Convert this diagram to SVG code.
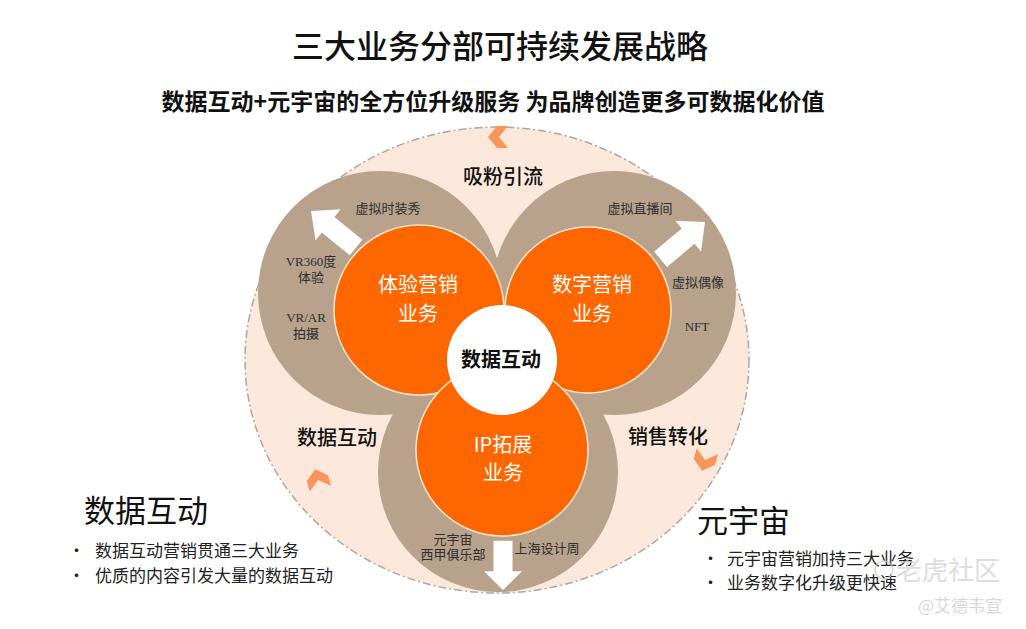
<svg xmlns="http://www.w3.org/2000/svg" width="1026" height="629" viewBox="0 0 1026 629">
<defs>
<style>
.cjk{font-family:"Noto Sans CJK SC","Liberation Sans",sans-serif}
.ser{font-family:"Liberation Serif","Noto Sans CJK SC",serif}
.lbl{font-family:"Liberation Serif","Noto Sans CJK SC",serif;font-size:13px;fill:#2e2e2e;text-anchor:middle}
.big{font-family:"Noto Sans CJK SC",sans-serif;font-size:20px;fill:#ffffff;text-anchor:middle}
.flow{font-family:"Noto Sans CJK SC",sans-serif;font-size:20px;fill:#111;text-anchor:middle;font-weight:500}
.brown{fill:#B8A28C}
.orange{fill:#FE6600;stroke:#FFE6CC;stroke-width:1.5}
.arrow{fill:#ffffff}
.chev{fill:#F7955B}
.bul{font-family:"Noto Sans CJK SC",sans-serif;font-size:17px;fill:#222}
</style>
<polygon id="chev" points="-9,-11 2,-11 11,0 2,11 -9,11 0,0"/>
<polygon id="arr" points="0,0 20,22 10,22 10,58 -10,58 -10,22 -20,22"/>
</defs>
<rect width="1026" height="629" fill="#ffffff"/>

<g id="title">
<text x="500" y="58" class="cjk" font-size="32" text-anchor="middle" fill="#111" font-weight="500">三大业务分部可持续发展战略</text>
<text x="493" y="110" class="cjk" font-size="23" text-anchor="middle" fill="#111" font-weight="700">数据互动+元宇宙的全方位升级服务 为品牌创造更多可数据化价值</text>
</g>

<g id="outer-ring">
<ellipse cx="497" cy="360" rx="252" ry="233" fill="#FCE8DA" stroke="#A8A8A8" stroke-width="1.5" stroke-dasharray="8 3 2 3"/>
</g>

<g id="brown-rings">
<circle class="brown" cx="380" cy="293" r="122"/>
<circle class="brown" cx="614" cy="293" r="122"/>
<circle class="brown" cx="498" cy="472" r="120"/>
</g>

<g id="node-tiyan">
<circle class="orange" cx="419" cy="310" r="85"/>
<text class="big" x="418" y="292">体验营销</text>
<text class="big" x="418" y="321">业务</text>
</g>
<g id="node-shuzi">
<circle class="orange" cx="588" cy="310" r="83"/>
<text class="big" x="592" y="292">数字营销</text>
<text class="big" x="592" y="321">业务</text>
</g>
<g id="node-ip">
<circle class="orange" cx="502" cy="450" r="86"/>
<text class="big ser" x="503" y="452">IP拓展</text>
<text class="big" x="503" y="480">业务</text>
</g>
<g id="node-center">
<circle cx="502" cy="360" r="55" fill="#ffffff"/>
<text x="501" y="367" class="cjk" font-size="20" font-weight="700" text-anchor="middle" fill="#111">数据互动</text>
</g>

<g id="connectors">
<use href="#arr" class="arrow" transform="translate(311,211) rotate(-51)"/>
<use href="#arr" class="arrow" transform="translate(705,222) rotate(50)"/>
<use href="#arr" class="arrow" transform="translate(503,590) rotate(180) scale(0.95,0.85)"/>
<use href="#chev" class="chev" transform="translate(499,137) rotate(180)"/>
<use href="#chev" class="chev" transform="translate(318,480) rotate(-105)"/>
<use href="#chev" class="chev" transform="translate(705,460) rotate(105)"/>
</g>

<g id="ring-labels">
<text class="lbl" x="388" y="213">虚拟时装秀</text>
<text class="lbl" x="311" y="266">VR360度</text>
<text class="lbl" x="311" y="282">体验</text>
<text class="lbl" x="306" y="322">VR/AR</text>
<text class="lbl" x="306" y="338">拍摄</text>
<text class="lbl" x="640" y="213">虚拟直播间</text>
<text class="lbl" x="698" y="287">虚拟偶像</text>
<text class="lbl" x="697" y="331">NFT</text>
<text class="lbl" x="453" y="544">元宇宙</text>
<text class="lbl" x="453" y="559">西甲俱乐部</text>
<text class="lbl" x="547" y="553">上海设计周</text>
</g>

<g id="flow-labels">
<text class="flow" x="503" y="184">吸粉引流</text>
<text class="flow" x="337" y="445">数据互动</text>
<text class="flow" x="668" y="444">销售转化</text>
</g>

<g id="left-note">
<text x="84" y="522" class="cjk" font-size="31" fill="#111">数据互动</text>
<text x="68" y="557" class="bul">•</text>
<text x="95" y="557" class="bul">数据互动营销贯通三大业务</text>
<text x="68" y="582" class="bul">•</text>
<text x="95" y="582" class="bul">优质的内容引发大量的数据互动</text>
</g>

<g id="right-note">
<text x="697" y="532" class="cjk" font-size="31" fill="#111">元宇宙</text>
<text x="702" y="565" class="bul">•</text>
<text x="727" y="565" class="bul">元宇宙营销加持三大业务</text>
<text x="702" y="589" class="bul">•</text>
<text x="727" y="589" class="bul">业务数字化升级更快速</text>
</g>

<g id="watermark" opacity="0.7">
<circle cx="884" cy="570" r="9" fill="none" stroke="#c8c8c8" stroke-width="1.5"/>
<text x="896" y="580" class="cjk" font-size="26" fill="#d0d0d0">老虎社区</text>
<text x="918" y="612" class="cjk" font-size="17" fill="#c8c8c8">@艾德韦宣</text>
</g>
</svg>
